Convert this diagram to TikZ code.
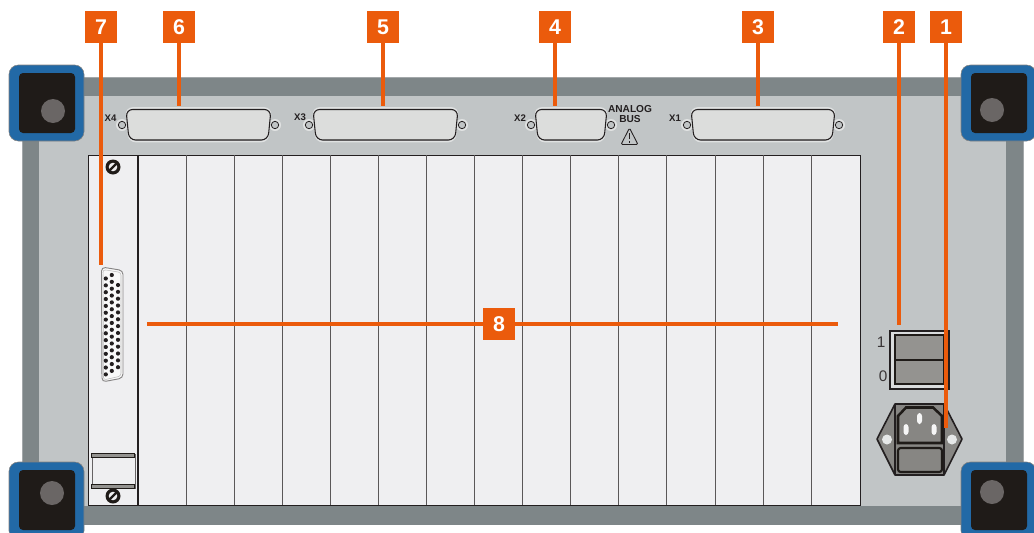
\documentclass[tikz,border=0pt]{standalone}
\usepackage{fontspec}
\setmainfont{Liberation Sans}
\definecolor{rackdark}{HTML}{7E8688}
\definecolor{rackedge}{HTML}{A3A8AA}
\definecolor{panel}{HTML}{C1C5C6}
\definecolor{footblue}{HTML}{2269A6}
\definecolor{footblack}{HTML}{1F1B18}
\definecolor{footdot}{HTML}{6A6665}
\definecolor{callout}{HTML}{EB5B0C}
\definecolor{dsubfill}{HTML}{DCDDDC}
\definecolor{dsubhalo}{HTML}{E0E2E2}
\definecolor{slotfill}{HTML}{EFEFF1}
\definecolor{switchgray}{HTML}{949390}
\definecolor{inletgray}{HTML}{878683}
\definecolor{ink}{HTML}{231F20}
\tikzset{
  numbox/.style={fill=callout,text=white,font=\bfseries\fontsize{16}{16}\selectfont,minimum size=24pt,inner sep=0pt},
  calloutline/.style={draw=callout,line width=2.3pt},
  portlabel/.style={font=\bfseries\fontsize{7.2}{8}\selectfont,text=ink,inner sep=0pt},
  slotline/.style={draw=ink!75,line width=.55pt},
  dsubbody/.style={draw=ink,line width=.8pt,fill=dsubfill,rounded corners=5pt},
  dsubedge/.style={draw=dsubhalo,line width=1.2pt,rounded corners=5pt},
  scr/.style={draw=ink,line width=.6pt,fill=panel}
}
\newcommand{\foot}[6]{% x0 y0 x1 y1 (outer), circle x y
  \fill[footblue,draw=footblack!55,line width=.4pt,rounded corners=7pt] (#1,#2) rectangle (#3,#4);
  \fill[footblack,rounded corners=3pt] (#1+10,#2+8) rectangle (#1+66,#2+68);
  \fill[footdot] (#5,#6) circle[radius=12];
}
\newcommand{\dsubport}[2]{% left, right edge of shell
  \fill[dsubhalo] (#1-4,125) circle[radius=6];
  \fill[dsubhalo] (#2+4,125) circle[radius=6];
  \path[dsubedge] (#1,108) -- (#2,108) -- (#2-3,141.5) -- (#1+3,141.5) -- cycle;
  \path[dsubbody] (#1,109.5) -- (#2,109.5) -- (#2-3,140) -- (#1+3,140) -- cycle;
  \draw[scr] (#1-4,125) circle[radius=3.7];
  \draw[scr] (#2+4,125) circle[radius=3.7];
}
\newcommand{\slotscrew}[2]{%
  \fill[footblack] (#1,#2) circle[radius=7.5];
  \fill[slotfill] (#1,#2) circle[radius=4.3];
  \draw[footblack,line width=1.7pt] (#1-4.5,#2+4.5) -- (#1+4.5,#2-4.5);
}
\begin{document}
\begin{tikzpicture}[x=0.75pt,y=-0.75pt]
\useasboundingbox (0,0) rectangle (1034,532);
\fill[white] (0,0) rectangle (1034,532);
% chassis
\fill[rackedge] (21.5,77) rectangle (1023.5,525);
\fill[rackdark] (22.5,78) rectangle (1023,524.5);
\fill[panel] (39,96) rectangle (1006,506);
% rack
\fill[slotfill] (88,155) rectangle (860,505);
\draw[ink,line width=.6pt] (88,155) rectangle (860,505);
\foreach \xx in {186,234,282,330,378,426,474,522,570,618,666,715,763,811}
  \draw[slotline] (\xx,155) -- (\xx,505);
\draw[ink,line width=1.2pt] (138,155) -- (138,505);
% D-sub connectors
\dsubport{126}{271}
\dsubport{313}{458}
\dsubport{535}{607}
\dsubport{691}{835}
\node[portlabel] (lx4) at (110.5,118) {X4};
\node[portlabel] (lx3) at (300,117) {X3};
\node[portlabel] (lx2) at (520,118) {X2};
\node[portlabel] (lx1) at (675,118) {X1};
\node[portlabel,font=\bfseries\fontsize{7.6}{8}\selectfont] (lana) at (630,109) {ANALOG};
\node[portlabel,font=\bfseries\fontsize{7.6}{8}\selectfont] (lbus) at (630,119.5) {BUS};
\draw[ink,line width=.65pt,line join=round,rounded corners=1pt] (629.5,128) -- (638,144.5) -- (621,144.5) -- cycle;
\draw[ink,line width=.8pt] (629.5,133) -- (629.5,139) (629.5,141) -- (629.5,142.5);
% card
\slotscrew{113}{167}
\slotscrew{113}{496}
\draw[ink!70,line width=.6pt,fill=slotfill] (92,454) rectangle (135,488);
\fill[footblack] (91,453) rectangle (135,458);
\fill[switchgray] (92,454.3) rectangle (134,456.8);
\fill[footblack] (91,484) rectangle (135,489);
\fill[switchgray] (92,485.3) rectangle (134,487.8);
% vertical connector
\draw[ink!55,line width=.7pt,fill=white!60!slotfill,rounded corners=3pt] (101.5,267) -- (123,270.5) -- (123,378) -- (102,382) -- cycle;
\draw[ink!30,line width=.4pt,rounded corners=2pt] (103,269.5) -- (121,272.5) -- (121,376) -- (103.5,380) -- cycle;
\foreach \i in {0,...,14}{
  \fill[ink] (105.8,278.5+6.85*\i) circle[radius=2.1];
  \fill[ink] (111.8,275+6.85*\i) circle[radius=2.1];
}
\foreach \i in {0,...,12}{
  \fill[ink] (118,285+6.85*\i) circle[radius=2.1];
}
% feet
\foot{9}{65}{84}{141}{53}{111}
\foot{9}{462}{84}{540}{52}{493}
\foot{961}{65}{1036}{141}{992}{110}
\foot{961}{462}{1036}{540}{992}{492}
% switch
\draw[ink,line width=.8pt,fill=panel!60!white] (890,331) rectangle (949,389);
\draw[footblack,line width=2pt,fill=switchgray] (895,335) rectangle (944,384);
\draw[footblack,line width=1.8pt] (895,360) -- (944,360);
\node[inner sep=0pt,text=ink!90,font=\fontsize{11.5}{12}\selectfont] (s1) at (881,342) {1};
\node[inner sep=0pt,text=ink!90,font=\fontsize{11.5}{12}\selectfont] (s0) at (883,376) {0};
% power inlet
\draw[ink,line width=1.2pt,fill=inletgray,line join=round] (877,439) -- (895,404) -- (944,404) -- (962,439) -- (944,475) -- (895,475) -- cycle;
\draw[ink,line width=1.2pt] (895,404) -- (895,475) (944,404) -- (944,475);
\fill[panel!40!white] (887,439.5) circle[radius=5];
\fill[panel!40!white] (952,439.5) circle[radius=5];
\draw[footblack,line width=1.9pt,fill=inletgray] (906,407.5) -- (933,407.5) -- (942,416) -- (942,443) -- (898,443) -- (898,416) -- cycle;
\draw[footblack,line width=1.6pt,fill=inletgray,rounded corners=2pt] (898,448) rectangle (942,472);
\fill[white!85!panel,rounded corners=2.2pt] (917,413) rectangle (922,424);
\fill[white!85!panel,rounded corners=2.2pt] (903.5,424) rectangle (908.5,435);
\fill[white!85!panel,rounded corners=2.2pt] (931.5,424) rectangle (936.5,435);
% callouts
\coordinate (e7) at (101,265);
\coordinate (e6) at (179,106);
\coordinate (e5) at (383,106);
\coordinate (e4) at (555,106);
\coordinate (e3) at (758,106);
\coordinate (e2) at (899,325);
\coordinate (e1) at (946,428);
\coordinate (e8l) at (147,324);
\coordinate (e8r) at (838,324);
\node[numbox] (n7) at (101,27) {7};
\node[numbox] (n6) at (179,27) {6};
\node[numbox] (n5) at (383,27) {5};
\node[numbox] (n4) at (555,27) {4};
\node[numbox] (n3) at (758,27) {3};
\node[numbox] (n2) at (899,27) {2};
\node[numbox] (n1) at (946,27) {1};
\draw[calloutline] (n7) -- (e7);
\draw[calloutline] (n6) -- (e6);
\draw[calloutline] (n5) -- (e5);
\draw[calloutline] (n4) -- (e4);
\draw[calloutline] (n3) -- (e3);
\draw[calloutline] (n2) -- (e2);
\draw[calloutline] (n1) -- (e1);
\draw[calloutline] (e8l) -- (e8r);
\node[numbox] (n8) at (499,324) {8};
\end{tikzpicture}
\end{document}
